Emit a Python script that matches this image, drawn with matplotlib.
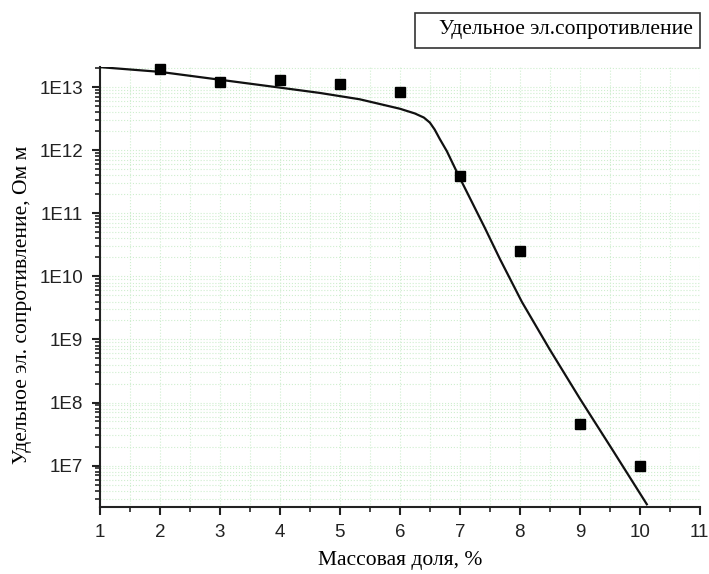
import numpy as np
import matplotlib.pyplot as plt
from matplotlib.patches import Rectangle
from matplotlib.ticker import FixedLocator, FuncFormatter, LogLocator, MultipleLocator

# measured resistivity vs mass fraction
mass = [2, 3, 4, 5, 6, 7, 8, 9, 10]
rho = [1.93e13, 1.2e13, 1.29e13, 1.12e13, 8.3e12, 3.9e11, 2.5e10, 4.5e7, 9.8e6]

# fitted curve (log10 of resistivity)
fit_x = [1.0, 2.0, 3.0, 4.0, 4.67, 5.33, 6.0, 6.25, 6.4, 6.5, 6.58, 6.667, 6.783,
         6.967, 7.167, 7.417, 7.667, 8.033, 8.5, 9.0, 9.55, 10.117]
fit_log = [13.32, 13.245, 13.12, 12.995, 12.91, 12.81, 12.66, 12.585, 12.52,
           12.44, 12.33, 12.177, 11.987, 11.623, 11.244, 10.769, 10.278, 9.598,
           8.839, 8.063, 7.241, 6.386]

x_ticks = list(range(1, 12))
y_decades = [7, 8, 9, 10, 11, 12, 13]

serif = ['Liberation Serif', 'DejaVu Serif']
sans = ['Liberation Sans', 'DejaVu Sans']

fig = plt.figure(figsize=(7.09, 5.74), dpi=100)
ax = fig.add_axes([0.141, 0.1167, 0.846, 0.7666])

ax.plot(fit_x, 10 ** np.array(fit_log), color='#111111', lw=1.6, zorder=3,
        solid_joinstyle='round')
ax.plot(mass, rho, 's', color='black', ms=6.5, zorder=4, clip_on=False)

ax.set_yscale('log')
ax.set_xlim(1, 11)
ax.set_ylim(2.2e6, 2.1e13)

ax.xaxis.set_major_locator(FixedLocator(x_ticks))
ax.xaxis.set_minor_locator(MultipleLocator(0.5))
ax.yaxis.set_major_locator(FixedLocator([10.0 ** d for d in y_decades]))
ax.yaxis.set_minor_locator(LogLocator(base=10, subs=np.arange(2, 10)))
ax.yaxis.set_major_formatter(FuncFormatter(lambda v, p: '1E%d' % round(np.log10(v))))
ax.yaxis.set_minor_formatter(FuncFormatter(lambda v, p: ''))

ax.grid(which='both', color='#cfeecf', ls=':', lw=0.8, zorder=0)

for side in ('top', 'right'):
    ax.spines[side].set_visible(False)
for side in ('left', 'bottom'):
    ax.spines[side].set_linewidth(1.5)
    ax.spines[side].set_color('#222222')

ax.tick_params(which='major', direction='out', length=6, width=1.5, colors='#222222',
               labelsize=13.5, pad=6)
ax.tick_params(which='minor', direction='out', length=3.5, width=1.2, colors='#222222')
for lab in ax.get_xticklabels() + ax.get_yticklabels():
    lab.set_family(sans)
    lab.set_color('#222222')

ax.set_xlabel('Массовая доля, %', family=serif, fontsize=15.5)
ax.set_ylabel('Удельное эл. сопротивление, Ом м', family=serif, fontsize=15.5)
ax.xaxis.set_label_coords(0.5, -0.1)
ax.yaxis.set_label_coords(-0.113, 0.46)

# legend box with the series name only
fig.patches.append(Rectangle((0.585, 0.9164), 0.402, 0.061, transform=fig.transFigure,
                             fc='white', ec='#333333', lw=1.2))
fig.text(0.977, 0.948, 'Удельное эл.сопротивление', family=serif, fontsize=15.5,
         ha='right', va='center')

fig.savefig('out.png', dpi=100)
